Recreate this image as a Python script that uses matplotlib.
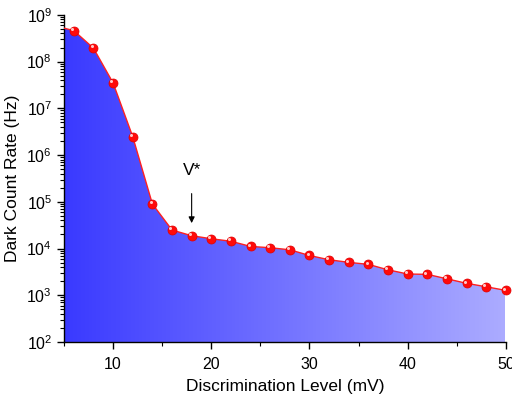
import numpy as np
import matplotlib
matplotlib.use("Agg")
import matplotlib.pyplot as plt
import matplotlib.transforms as mtransforms
from matplotlib.colors import LinearSegmentedColormap
from matplotlib.ticker import LogLocator, MultipleLocator, NullFormatter

plt.rcParams['font.family'] = ['Liberation Sans', 'DejaVu Sans']

level_mv = [4, 6, 8, 10, 12, 14, 16, 18, 20, 22, 24, 26, 28, 30, 32, 34, 36, 38, 40, 42, 44, 46, 48, 50]
rate_hz = [5.9e8, 4.6e8, 1.94e8, 3.5e7, 2.48e6, 9.0e4, 2.49e4, 1.88e4, 1.62e4, 1.43e4, 1.11e4, 1.04e4,
           9.4e3, 7.1e3, 5.75e3, 5.06e3, 4.58e3, 3.5e3, 2.85e3, 2.8e3, 2.25e3, 1.8e3, 1.52e3, 1.27e3]
marker_x = level_mv[1:]
marker_y = rate_hz[1:]
vstar_x = 18
vstar_tip = 3.5e4
vstar_text = 4.6e5

fig = plt.figure(figsize=(5.12, 3.96), dpi=100)
ax = fig.add_axes([0.125, 0.1364, 0.863, 0.826])
ax.set_xlim(5, 50)
ax.set_ylim(1e2, 1e9)
ax.set_yscale('log')

# gradient fill under the curve
poly = ax.fill_between(level_mv, rate_hz, 1e2, color='none', lw=0)
cmap = LinearSegmentedColormap.from_list('bl', ['#3a3aff', '#acacff'])
grad = np.linspace(0, 1, 256).reshape(1, -1)
im = ax.imshow(grad, cmap=cmap, aspect='auto', extent=[5, 50, 1e2, 1e9], zorder=1)
path = poly.get_paths()[0]
im.set_clip_path(path, transform=ax.transData)

ax.plot(level_mv, rate_hz, color='#ff2020', lw=1.0, zorder=3)
ax.plot(marker_x, marker_y, 'o', color='#ff0a0a', markeredgecolor='#e00000', markeredgewidth=0.5,
        markersize=6.5, zorder=4, clip_on=False)
hl = mtransforms.offset_copy(ax.transData, fig=fig, x=-1.3, y=1.3, units='points')
ax.plot(marker_x, marker_y, 'o', color='#ffc8c8', markeredgewidth=0, markersize=2.2, zorder=5,
        transform=hl, clip_on=False)

ax.annotate('V*', xy=(vstar_x, vstar_tip), xytext=(vstar_x, vstar_text), ha='center', va='center',
            fontsize=12.5, arrowprops=dict(arrowstyle='-|>', color='black', lw=0.8, shrinkA=9, shrinkB=0,
                                           mutation_scale=9))

for s in ['top', 'right']:
    ax.spines[s].set_visible(False)
ax.spines['left'].set_linewidth(1.0)
ax.spines['bottom'].set_linewidth(1.0)

ax.xaxis.set_major_locator(MultipleLocator(10))
ax.xaxis.set_minor_locator(MultipleLocator(5))
ax.yaxis.set_major_locator(LogLocator(base=10, numticks=20))
ax.yaxis.set_minor_locator(LogLocator(base=10, subs=np.arange(2, 10), numticks=20))
ax.yaxis.set_minor_formatter(NullFormatter())
ax.tick_params(which='major', direction='out', length=5, width=1, labelsize=11.5)
ax.tick_params(which='minor', direction='out', length=3, width=0.8)
ax.tick_params(axis='x', pad=6)

ax.set_xlabel('Discrimination Level (mV)', fontsize=12.5, labelpad=5)
ax.set_ylabel('Dark Count Rate (Hz)', fontsize=12.5)
ax.yaxis.set_label_coords(-0.1, 0.5)

fig.savefig('out.png', dpi=100)
